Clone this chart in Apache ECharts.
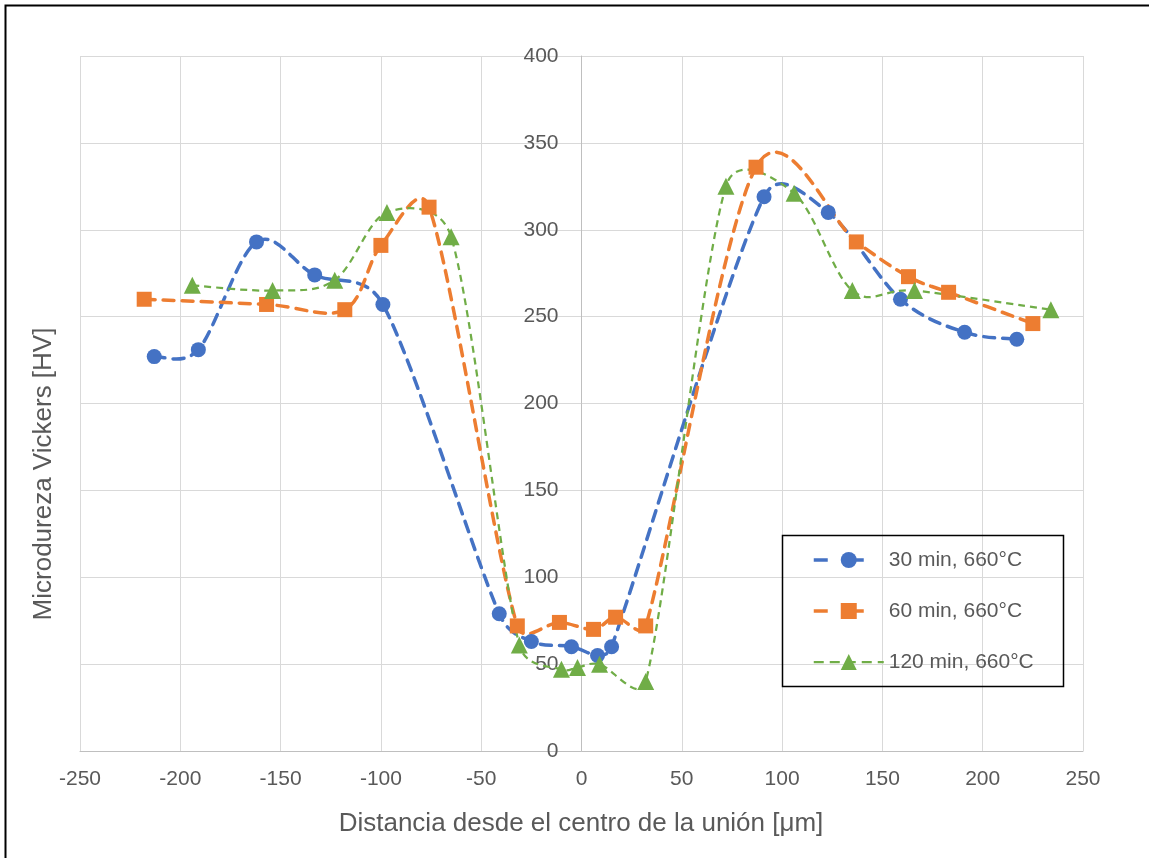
<!DOCTYPE html>
<html>
<head>
<meta charset="utf-8">
<script src="https://cdn.jsdelivr.net/npm/echarts@6/dist/echarts.min.js"></script>
<style>
  html, body { margin: 0; padding: 0; background: #fff; }
  #chart { width: 1149px; height: 858px; }
</style>
</head>
<body>
<div id="chart"></div>
<script>
// Microhardness profiles across the joint: [distance µm, HV]
const serie30 = [[-213,227],[-191,231],[-162,293],[-133,274],[-99,257],[-41,79],[-25,63],[-5,60],[8,55],[15,60],[91,319],[123,310],[159,260],[191,241],[217,237]];
const serie60 = [[-218,260],[-157,257],[-118,254],[-100,291],[-76,313],[-32,72],[-11,74],[6,70],[17,77],[32,72],[87,336],[137,293],[163,273],[183,264],[225,246]];
const serie120 = [[-194,268],[-154,265],[-123,271],[-97,310],[-65,296],[-31,61],[-10,47],[-2,48],[9,50],[32,40],[72,325],[106,321],[135,265],[166,265],[234,254]];

const seriesNames = ['30 min, 660°C', '60 min, 660°C', '120 min, 660°C'];
const xTitle = 'Distancia desde el centro de la unión [μm]';
const yTitle = 'Microdureza Vickers [HV]';

const FONT = '"Liberation Sans", Arial, sans-serif';
const TXT = '#595959';

const styles = [
  { color: '#4472C4', symbol: 'circle', size: 15, width: 3.5, dash: [11, 8] },
  { color: '#ED7D31', symbol: 'rect', size: 15, width: 3.5, dash: [11, 8] },
  { color: '#70AD47', symbol: 'triangle', size: 17, width: 2.25, dash: [7, 5] }
];
const datasets = [serie30, serie60, serie120];

function dist(a, b) {
  return Math.sqrt((a[0] - b[0]) * (a[0] - b[0]) + (a[1] - b[1]) * (a[1] - b[1]));
}

// Smooth curve through the points as cubic Bezier segments (tension 1/6),
// with each control arm limited to half of its segment length.
function smoothPath(p) {
  let s = 'M' + p[0][0] + ' ' + p[0][1];
  for (let i = 0; i < p.length - 1; i++) {
    const p0 = p[Math.max(i - 1, 0)];
    const p1 = p[i];
    const p2 = p[i + 1];
    const p3 = p[Math.min(i + 2, p.length - 1)];
    const d12 = dist(p1, p2);
    const d02 = dist(p0, p2);
    const d13 = dist(p1, p3);
    let f1 = 1 / 6, f2 = 1 / 6;
    if (d02 / 6 > d12 / 2 && d02 > 0) f1 = d12 / (2 * d02);
    if (d13 / 6 > d12 / 2 && d13 > 0) f2 = d12 / (2 * d13);
    const c1x = p1[0] + (p2[0] - p0[0]) * f1;
    const c1y = p1[1] + (p2[1] - p0[1]) * f1;
    const c2x = p2[0] - (p3[0] - p1[0]) * f2;
    const c2y = p2[1] - (p3[1] - p1[1]) * f2;
    s += ' C' + c1x + ' ' + c1y + ' ' + c2x + ' ' + c2y + ' ' + p2[0] + ' ' + p2[1];
  }
  return s;
}

function curveSeries(k) {
  const st = styles[k];
  const src = datasets[k];
  return {
    name: 'curva-' + k,
    type: 'custom',
    coordinateSystem: 'cartesian2d',
    silent: true,
    z: 1,
    data: [src[0]],
    renderItem: function (params, api) {
      const pts = src.map(function (d) { return api.coord(d); });
      return {
        type: 'path',
        shape: { pathData: smoothPath(pts) },
        style: {
          fill: 'none',
          stroke: st.color,
          lineWidth: st.width,
          lineDash: st.dash,
          lineCap: k < 2 ? 'round' : 'butt'
        }
      };
    }
  };
}

function markerSeries(k) {
  const st = styles[k];
  return {
    name: seriesNames[k],
    type: 'line',
    data: datasets[k],
    z: 3,
    symbol: st.symbol,
    symbolSize: st.size,
    itemStyle: { color: st.color },
    lineStyle: { color: st.color, width: 0, opacity: 0 }
  };
}

const chart = echarts.init(document.getElementById('chart'), null, { renderer: 'canvas' });

chart.setOption({
  backgroundColor: '#fff',
  animation: false,
  textStyle: { fontFamily: FONT },
  grid: { left: 80, right: 66, top: 56, bottom: 107, containLabel: false },
  xAxis: {
    type: 'value',
    min: -250, max: 250, interval: 50,
    axisLine: { show: true, onZero: false, lineStyle: { color: '#bfbfbf', width: 1 } },
    axisTick: { show: false },
    axisLabel: { color: TXT, fontSize: 21, fontFamily: FONT, margin: 18 },
    splitLine: { show: true, lineStyle: { color: '#d9d9d9', width: 1 } }
  },
  yAxis: {
    type: 'value',
    min: 0, max: 400, interval: 50,
    position: 'left',
    offset: -501.5,
    axisLine: { show: true, onZero: false, lineStyle: { color: '#bfbfbf', width: 1 } },
    axisTick: { show: false },
    axisLabel: { color: TXT, fontSize: 21, fontFamily: FONT, margin: 23 },
    splitLine: { show: true, lineStyle: { color: '#d9d9d9', width: 1 } }
  },
  legend: {
    orient: 'vertical',
    left: 812, top: 548,
    padding: 0,
    itemWidth: 70, itemHeight: 20, itemGap: 27,
    textStyle: { color: TXT, fontSize: 21, fontFamily: FONT, lineHeight: 24 },
    data: seriesNames.map(function (n, k) {
      return {
        name: n,
        lineStyle: { color: styles[k].color, width: styles[k].width, type: k < 2 ? [14, 22] : [10, 6], opacity: 1 }
      };
    })
  },
  graphic: [
    { type: 'rect', silent: true, z: -10,
      shape: { x: 5.5, y: 5.5, width: 1160, height: 870 },
      style: { fill: 'none', stroke: '#000', lineWidth: 2 } },
    { type: 'rect', silent: true, z: 10,
      shape: { x: 782.5, y: 535.5, width: 281, height: 151 },
      style: { fill: 'none', stroke: '#000', lineWidth: 1.5 } },
    { type: 'text', silent: true,
      x: 581, y: 824,
      style: { text: xTitle, fill: TXT, font: '26px ' + FONT, textAlign: 'center', textVerticalAlign: 'middle' } },
    { type: 'text', silent: true,
      x: 44, y: 474, rotation: Math.PI / 2,
      style: { text: yTitle, fill: TXT, font: '26px ' + FONT, textAlign: 'center', textVerticalAlign: 'middle' } }
  ],
  series: [
    curveSeries(0), curveSeries(1), curveSeries(2),
    markerSeries(0), markerSeries(1), markerSeries(2)
  ]
});
</script>
</body>
</html>
